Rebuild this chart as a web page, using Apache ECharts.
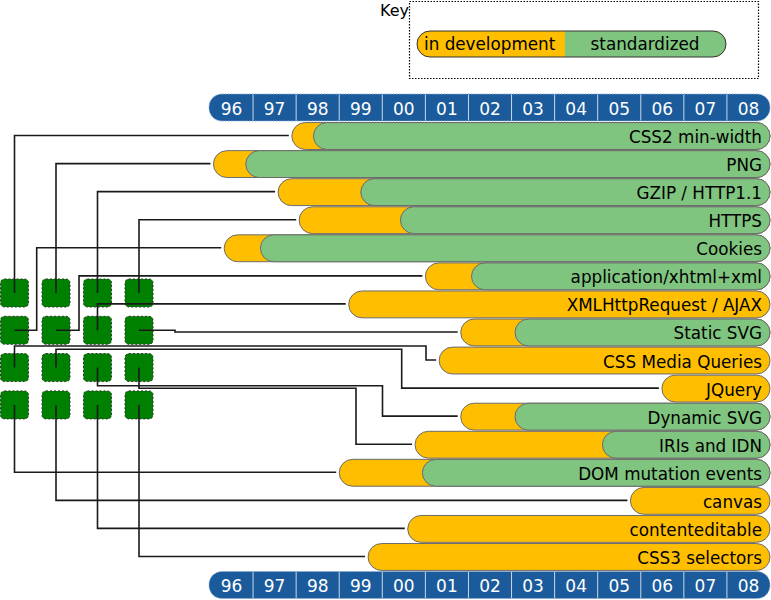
<!DOCTYPE html>
<html><head><meta charset="utf-8">
<script src="https://cdn.jsdelivr.net/npm/echarts@6/dist/echarts.min.js"></script>
<style>html,body{margin:0;padding:0;background:#fff}#c{width:771px;height:600px}</style>
</head><body><div id="c"></div>
<script>
// ---- data ----
const features = ['CSS2 min-width','PNG','GZIP / HTTP1.1','HTTPS','Cookies','application/xhtml+xml','XMLHttpRequest / AJAX','Static SVG','CSS Media Queries','JQuery','Dynamic SVG','IRIs and IDN','DOM mutation events','canvas','contenteditable','CSS3 selectors'];
const devStart = [1997.90, 1996.08, 1997.58, 1998.07, 1996.33, 2001.00, 1999.22, 2001.82, 2001.32, 2006.49, 2001.82, 2000.76, 1999.00, 2005.76, 2000.59, 1999.67];
const stdStart = [1998.40, 1996.83, 1999.50, 2000.42, 1997.17, 2002.07, null, 2003.08, null, null, 2003.08, 2005.11, 2000.93, null, null, null];
const yearLabels = ['96','97','98','99','00','01','02','03','04','05','06','07','08'];
const firstYear = 1996;
const lastYear = firstYear + yearLabels.length;
const keyTitle = 'Key';
const keyLabels = ['in development','standardized'];

// ---- style / layout ----
const FONT = '"DejaVu Sans"';
const ORANGE = '#FFBF00', GREEN = '#7FC47F', BLUE = '#1B5B9B', BORDER = '#6b6b6b';
// connector bends (pixels) after leaving each key cell, before final vertical+horizontal run
const routes = [
  [], [], [], [],
  [['h',36.7]], [['h',79]], [], [['h',175]],
  [['v',346],['h',426]], [['v',349.3],['h',401.7]], [['v',385.7],['h',382.5]], [['v',388.3],['h',356]],
  [], [], [], []
];

const chart = echarts.init(document.getElementById('c'), null, {renderer: 'svg'});

function barItem(params, api) {
  const i = params.dataIndex;
  const p0 = api.coord([api.value(0), i]);
  const pe = api.coord([lastYear, i]);
  const band = api.size([0, 1])[1];
  const h = band - 1.2;
  const top = p0[1] - h / 2;
  const r = h / 2;
  const children = [{type: 'rect', shape: {x: p0[0], y: top, width: pe[0] - p0[0], height: h, r: r},
    style: {fill: ORANGE, stroke: BORDER, lineWidth: 1}}];
  const s = stdStart[i];
  if (s != null) {
    const ps = api.coord([s, i]);
    children.push({type: 'rect', shape: {x: ps[0], y: top, width: pe[0] - ps[0], height: h, r: r},
      style: {fill: GREEN, stroke: BORDER, lineWidth: 1}});
  }
  children.push({type: 'text', x: pe[0] - 8, y: p0[1] + 1,
    style: {text: features[i], fill: '#000', font: '16.8px ' + FONT, align: 'right', verticalAlign: 'middle'}});
  return {type: 'group', children};
}

function yearItem(params, api) {
  const i = params.dataIndex;
  const cs = params.coordSys;
  const a = api.coord([firstYear + i, 0])[0], b = api.coord([firstYear + i + 1, 0])[0];
  const ph = 28;
  const tops = [cs.y - ph - 0.5, cs.y + cs.height];
  const children = [];
  tops.forEach(t => {
    if (i === 0) {
      const x0 = api.coord([firstYear, 0])[0], x1 = api.coord([lastYear, 0])[0];
      children.push({type: 'rect', shape: {x: x0 - 1, y: t + 0.5, width: x1 - x0 + 1, height: ph - 1, r: 13},
        style: {fill: BLUE, stroke: '#8fb0d6', lineWidth: 1, lineDash: [1.5, 1.5]}});
    }
    if (i > 0) children.push({type: 'line', shape: {x1: a, y1: t + 1, x2: a, y2: t + ph - 1},
      style: {stroke: '#c9d7e8', lineWidth: 1}});
    children.push({type: 'text', x: (a + b) / 2, y: t + ph / 2 + 1,
      style: {text: yearLabels[i], fill: '#fff', font: '17px ' + FONT, align: 'center', verticalAlign: 'middle'}});
  });
  return {type: 'group', children};
}

function cellItem(params, api) {
  const p = api.coord([api.value(0), api.value(1)]);
  return {type: 'rect', shape: {x: p[0] + 0.5, y: p[1], width: 28, height: 28, r: 4},
    style: {fill: '#008000', stroke: '#333', lineWidth: 1, lineDash: [2, 2]}};
}

chart.setOption({
  animation: false,
  backgroundColor: '#fff',
  grid: [
    {left: 210, top: 122, width: 560, height: 449},
    {left: 0, top: 279, width: 166, height: 149.2}
  ],
  xAxis: [
    {type: 'value', gridIndex: 0, min: firstYear, max: lastYear, show: false},
    {type: 'value', gridIndex: 1, min: 0, max: 4, show: false}
  ],
  yAxis: [
    {type: 'category', gridIndex: 0, data: features, inverse: true, show: false},
    {type: 'value', gridIndex: 1, min: 0, max: 4, inverse: true, show: false}
  ],
  series: [
    {type: 'custom', xAxisIndex: 0, yAxisIndex: 0, renderItem: barItem,
      data: features.map((f, i) => [devStart[i], i])},
    {type: 'custom', xAxisIndex: 0, yAxisIndex: 0, renderItem: yearItem, clip: false,
      data: yearLabels.map((l, i) => [firstYear + i, 0])},
    {type: 'custom', xAxisIndex: 1, yAxisIndex: 1, renderItem: cellItem, clip: false,
      data: features.map((f, i) => [i % 4, Math.floor(i / 4)])}
  ]
});

// key box and connectors from key cells to the start of each bar
const graphics = [
  {type: 'text', x: 380, y: 2, style: {text: keyTitle, fill: '#000', font: '16px ' + FONT}},
  {type: 'rect', shape: {x: 409.5, y: 1.5, width: 349, height: 77}, style: {fill: null, stroke: '#000', lineWidth: 1.2, lineDash: [1.5, 1.5]}},
  {type: 'rect', shape: {x: 417, y: 31, width: 309, height: 26, r: 13}, style: {fill: ORANGE}},
  {type: 'rect', shape: {x: 565, y: 31, width: 161, height: 26, r: [0, 13, 13, 0]}, style: {fill: GREEN}},
  {type: 'rect', shape: {x: 417, y: 31, width: 309, height: 26, r: 13}, style: {fill: null, stroke: '#333', lineWidth: 1}},
  {type: 'text', x: 424, y: 44, style: {text: keyLabels[0], fill: '#000', font: '16.8px ' + FONT, align: 'left', verticalAlign: 'middle'}},
  {type: 'text', x: 645, y: 44, style: {text: keyLabels[1], fill: '#000', font: '16.8px ' + FONT, align: 'center', verticalAlign: 'middle'}}
];
features.forEach((f, i) => {
  const c = chart.convertToPixel({gridIndex: 1}, [i % 4, Math.floor(i / 4)]);
  let x = c[0] + 14.5, y = c[1] + 14;
  const pts = [[x, y]];
  routes[i].forEach(([k, v]) => {
    if (k === 'h') x = v; else y = v;
    pts.push([x, y]);
  });
  const e = chart.convertToPixel({gridIndex: 0}, [devStart[i], i]);
  y = e[1] - 0.5; pts.push([x, y]);
  x = e[0] - 3; pts.push([x, y]);
  graphics.push({type: 'polyline', z: 10, shape: {points: pts}, style: {fill: null, stroke: '#1a1a1a', lineWidth: 1.6}});
});
chart.setOption({graphic: graphics});
</script>
</body></html>
